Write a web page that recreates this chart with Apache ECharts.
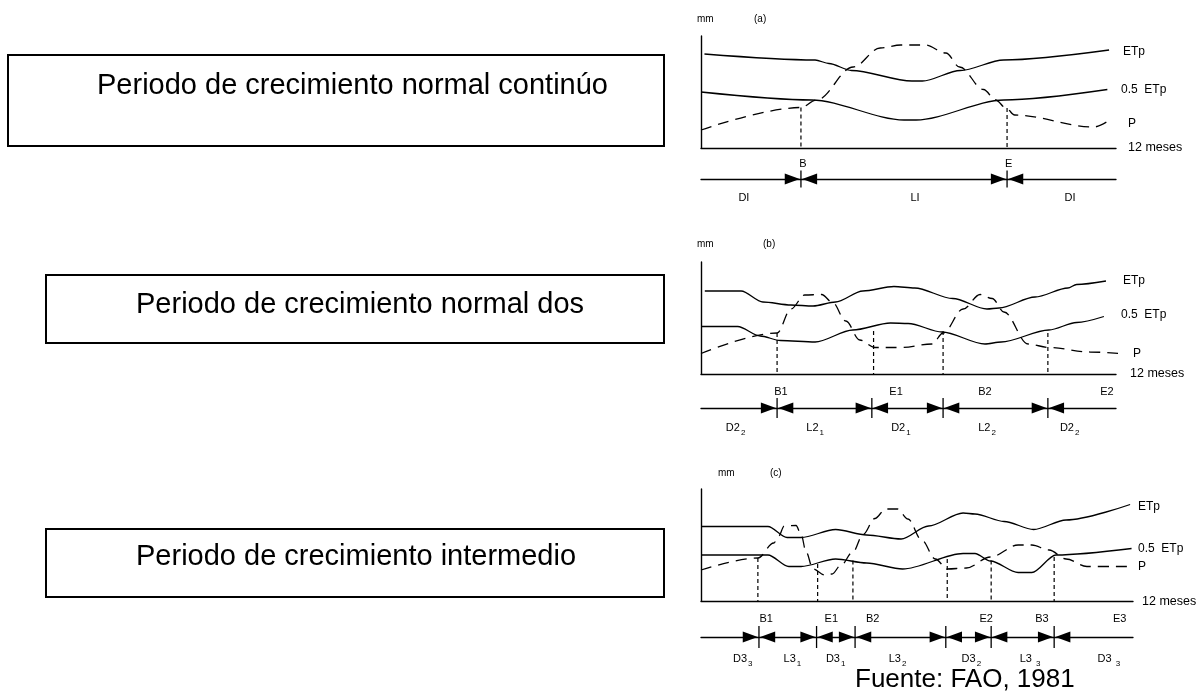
<!DOCTYPE html>
<html>
<head>
<meta charset="utf-8">
<script src="https://cdn.jsdelivr.net/npm/echarts@6/dist/echarts.min.js"></script>
<style>
  html, body { margin: 0; padding: 0; background: #fff; }
  #chart { width: 1197px; height: 698px; }
</style>
</head>
<body>
<div id="chart"></div>
<script>
// Growing-period types (FAO, 1981): schematic ETp, 0.5 ETp and rainfall P over 12 months.
// Points are [month, mm].

// (a) normal continuous growing period
const etpA  = [[0.1,188],[3.3,176],[3.7,169],[4.35,155],[6.1,134],[6.4,134],[7.5,155],[8.75,176],[11.8,196]];
const hetpA = [[0,112],[3.2,96],[5.87,56],[6.22,56],[8.76,96],[11.75,117]];
const rainA = [[0,36],[2.89,81],[3.34,96],[4.4,162],[5.18,200],[5.78,206],[6.48,206],[7.08,190],[7.48,162],[8.17,117],[8.52,96],[8.82,80],[9.07,66],[11.36,42],[11.8,55]];
const limitsA   = [[2.89,81],[8.85,80]];
const bndA      = [2.89, 8.85];
const bndNameA  = ['B', 'E'];
const bndNameXA = [2.95, 8.9];
const phaseA    = [['DI',''],['LI',''],['DI','']];
const phaseXA   = [1.24, 6.19, 10.67];

// (b) two normal growing periods
const etpB  = [[0.11,166],[1.16,166],[1.79,144],[2.6,138],[3.24,136],[3.89,144],[4.68,166],[5.58,175],[6.18,172],[7.28,151],[8.27,130],[8.62,132],[9.66,154],[10.61,172],[10.86,179],[11.71,186]];
const hetpB = [[0,95],[1.06,95],[1.71,76],[2.3,67],[3.3,64],[4.39,88],[5.48,102],[5.99,101],[6.97,84],[8.21,60],[8.68,64],[10.06,88],[10.86,103],[11.65,115]];
const rainB = [[0,41],[2.2,82],[2.6,130],[3.0,158],[3.49,159],[3.79,144],[4.19,106],[4.59,68],[5.03,53],[5.78,53],[6.68,60],[7.0,82],[7.58,130],[8.07,159],[8.42,151],[8.76,124],[9.46,60],[10.06,53],[11.25,44],[12.15,41]];
const limitsB   = [[2.2,82],[4.99,86],[7.0,86],[10.03,82]];
const bndB      = [2.2, 4.94, 7.0, 10.03];
const bndNameB  = ['B1', 'E1', 'B2', 'E2'];
const bndNameXB = [2.31, 5.64, 8.21, 11.74];
const phaseB    = [['D2','2'],['L2','1'],['D2','1'],['L2','2'],['D2','2']];
const phaseXB   = [1.0, 3.3, 5.78, 8.27, 10.66];

// (c) intermediate growing period
const etpC  = [[0,149],[1.86,149],[2.39,127],[2.78,127],[3.74,143],[4.6,132],[5.56,124],[6.32,150],[7.28,176],[7.61,174],[8.42,159],[9.24,143],[10.14,162],[11.92,193]];
const hetpC = [[0,92],[1.86,92],[2.44,69],[2.78,69],[3.74,84],[4.6,76],[5.6,64],[7.28,95],[7.61,95],[8.04,80],[8.81,57],[9.19,57],[9.86,92],[11.96,105]];
const rainC = [[0,62],[1.58,86],[2.02,116],[2.16,130],[2.31,150],[2.64,151],[2.78,133],[2.92,98],[3.11,64],[3.44,52],[3.64,54],[3.88,71],[4.22,98],[4.5,133],[4.83,165],[5.13,184],[5.46,184],[5.75,164],[6.13,122],[6.51,84],[6.84,64],[7.37,66],[8.04,88],[8.81,112],[9.19,112],[9.67,102],[10.14,84],[10.72,69],[11.96,69]];
const limitsC   = [[1.58,86],[3.24,74],[4.22,81],[6.84,84],[8.06,81],[9.81,88]];
const bndC      = [1.61, 3.21, 4.28, 6.8, 8.06, 9.81];
const bndNameC  = ['B1', 'E1', 'B2', 'E2', 'B3', 'E3'];
const bndNameXC = [1.81, 3.62, 4.77, 7.92, 9.47, 11.63];
const phaseC    = [['D3','3'],['L3','1'],['D3','1'],['L3','2'],['D3','2'],['L3 ','3'],['D3 ','3']];
const phaseXC   = [1.16, 2.54, 3.74, 5.46, 7.51, 9.14, 11.33];

const titles  = ['Periodo de crecimiento normal continúo', 'Periodo de crecimiento normal dos', 'Periodo de crecimiento intermedio'];
const source  = 'Fuente: FAO, 1981';

const FONT = '"Liberation Sans", Arial, Helvetica, sans-serif';
const INK = '#000';

const panels = [
  { etp: etpA, hetp: hetpA, rain: rainA, limits: limitsA, bnd: bndA, bndName: bndNameA, bndX: bndNameXA, phase: phaseA, phaseX: phaseXA,
    plot: { left: 701, top: 36, width: 415, height: 112 }, strip: { left: 701, top: 159, width: 415, height: 40 },
    tickHalf: 8.5, upOff: -15.5, downOff: 19 },
  { etp: etpB, hetp: hetpB, rain: rainB, limits: limitsB, bnd: bndB, bndName: bndNameB, bndX: bndNameXB, phase: phaseB, phaseX: phaseXB,
    plot: { left: 701, top: 262, width: 415, height: 112 }, strip: { left: 701, top: 388, width: 415, height: 40 },
    tickHalf: 10, upOff: -16.5, downOff: 19.6 },
  { etp: etpC, hetp: hetpC, rain: rainC, limits: limitsC, bnd: bndC, bndName: bndNameC, bndX: bndNameXC, phase: phaseC, phaseX: phaseXC,
    plot: { left: 701, top: 489, width: 432, height: 112 }, strip: { left: 701, top: 617, width: 432, height: 40 },
    tickHalf: 11, upOff: -18, downOff: 21.6 }
];

const grids = [], xAxes = [], yAxes = [], series = [];
const hidden = { show: false };

panels.forEach((pn, i) => {
  const gp = i * 2, gs = i * 2 + 1;
  grids.push(pn.plot, pn.strip);
  xAxes.push(
    { gridIndex: gp, type: 'value', min: 0, max: 12, axisLine: { show: true, lineStyle: { color: INK, width: 1.4 } },
      axisTick: hidden, axisLabel: hidden, splitLine: hidden },
    { gridIndex: gs, type: 'value', min: 0, max: 12, axisLine: { show: true, onZero: true, lineStyle: { color: INK, width: 1.3 } },
      axisTick: hidden, axisLabel: hidden, splitLine: hidden }
  );
  yAxes.push(
    { gridIndex: gp, type: 'value', min: 0, max: 224, axisLine: { show: true, lineStyle: { color: INK, width: 1.4 } },
      axisTick: hidden, axisLabel: hidden, splitLine: hidden },
    { gridIndex: gs, type: 'value', min: -1, max: 1, show: false }
  );

  const base = { type: 'line', xAxisIndex: gp, yAxisIndex: gp, symbol: 'none', clip: false, silent: true, smoothMonotone: 'x' };
  series.push(
    Object.assign({}, base, { name: 'ETp', data: pn.etp, smooth: 0.3, lineStyle: { color: INK, width: 1.3 } }),
    Object.assign({}, base, { name: '0.5 ETp', data: pn.hetp, smooth: 0.3, lineStyle: { color: INK, width: 1.3 } }),
    Object.assign({}, base, { name: 'P', data: pn.rain, smooth: 0.35, lineStyle: { color: INK, width: 1.3, type: [11, 7] } })
  );

  // dashed drops from the rainfall curve to the time axis at season limits
  series.push({
    type: 'custom', xAxisIndex: gp, yAxisIndex: gp, silent: true, clip: false, data: pn.limits,
    renderItem: (params, api) => {
      const a = api.coord([api.value(0), api.value(1)]);
      const b = api.coord([api.value(0), 0]);
      return { type: 'line', shape: { x1: a[0], y1: a[1], x2: b[0], y2: b[1] },
               style: { stroke: INK, lineWidth: 1.2, lineDash: [4, 3] } };
    }
  });

  // season limits on the phase strip: tick plus two facing arrowheads
  const th = pn.tickHalf;
  series.push({
    type: 'custom', xAxisIndex: gs, yAxisIndex: gs, silent: true, clip: false, data: pn.bnd.map(v => [v, 0]),
    renderItem: (params, api) => {
      const p = api.coord([api.value(0), 0]);
      const x = p[0], y = p[1];
      const L = 15, H = 5.5, g = 1.2;
      return { type: 'group', children: [
        { type: 'line', shape: { x1: x, y1: y - th, x2: x, y2: y + th }, style: { stroke: INK, lineWidth: 1.3 } },
        { type: 'polygon', shape: { points: [[x - g, y], [x - g - L, y - H], [x - g - L, y + H]] }, style: { fill: INK } },
        { type: 'polygon', shape: { points: [[x + g, y], [x + g + L, y - H], [x + g + L, y + H]] }, style: { fill: INK } }
      ] };
    }
  });

  // limit names above the strip
  const up = pn.upOff, down = pn.downOff;
  series.push({
    type: 'custom', xAxisIndex: gs, yAxisIndex: gs, silent: true, clip: false, data: pn.bndX.map(v => [v, 0]),
    renderItem: (params, api) => {
      const p = api.coord([api.value(0), 0]);
      return { type: 'text', x: p[0], y: p[1] + up,
               style: { text: pn.bndName[params.dataIndex], fill: INK, fontSize: 11, fontFamily: FONT, align: 'center', verticalAlign: 'middle' } };
    }
  });

  // phase names (dry / humid) below the strip, with subscripts
  series.push({
    type: 'custom', xAxisIndex: gs, yAxisIndex: gs, silent: true, clip: false, data: pn.phaseX.map(v => [v, 0]),
    renderItem: (params, api) => {
      const p = api.coord([api.value(0), 0]);
      const ph = pn.phase[params.dataIndex];
      const txt = '{n|' + ph[0] + '}' + (ph[1] ? '{s|' + ph[1] + '}' : '');
      return { type: 'text', x: p[0], y: p[1] + down,
               style: { text: txt, align: 'center', verticalAlign: 'middle',
                 rich: {
                   n: { fill: INK, fontSize: 11, fontFamily: FONT, lineHeight: 18 },
                   s: { fill: INK, fontSize: 8, fontFamily: FONT, lineHeight: 8, verticalAlign: 'bottom', padding: [0, 0, 0, 1] }
                 } } };
    }
  });
});

// text and frames around the panels
const graphic = [];
function txt(x, y, text, size, extra) {
  graphic.push({ type: 'text', x: x, y: y, silent: true,
    style: Object.assign({ text: text, fill: INK, fontSize: size, fontFamily: FONT, align: 'left', verticalAlign: 'middle' }, extra || {}) });
}
function frame(x, y, w, h) {
  graphic.push({ type: 'rect', silent: true, shape: { x: x, y: y, width: w, height: h },
    style: { fill: 'none', stroke: INK, lineWidth: 2 } });
}

frame(8, 55, 656, 91);
frame(46, 275, 618, 68);
frame(46, 529, 618, 68);
txt(97, 86, titles[0], 29);
txt(136, 305, titles[1], 29);
txt(136, 557, titles[2], 29);
txt(855, 680, source, 26);

const sideLabels = [
  { mm: [697, 19], tag: [754, 19, '(a)'], etp: [1123, 52], hetp: [1121, 90], p: [1128, 124], months: [1128, 148] },
  { mm: [697, 244], tag: [763, 244, '(b)'], etp: [1123, 281], hetp: [1121, 315], p: [1133, 354], months: [1130, 374] },
  { mm: [718, 473], tag: [770, 473, '(c)'], etp: [1138, 507], hetp: [1138, 549], p: [1138, 567], months: [1142, 602] }
];
sideLabels.forEach(s => {
  txt(s.mm[0], s.mm[1], 'mm', 10);
  txt(s.tag[0], s.tag[1], s.tag[2], 10);
  txt(s.etp[0], s.etp[1], 'ETp', 12);
  txt(s.hetp[0], s.hetp[1], '0.5  ETp', 12);
  txt(s.p[0], s.p[1], 'P', 12);
  txt(s.months[0], s.months[1], '12 meses', 12.5);
});

const chart = echarts.init(document.getElementById('chart'), null, { renderer: 'canvas' });
chart.setOption({
  backgroundColor: '#fff',
  animation: false,
  grid: grids,
  xAxis: xAxes,
  yAxis: yAxes,
  series: series,
  graphic: graphic
});
</script>
</body>
</html>
